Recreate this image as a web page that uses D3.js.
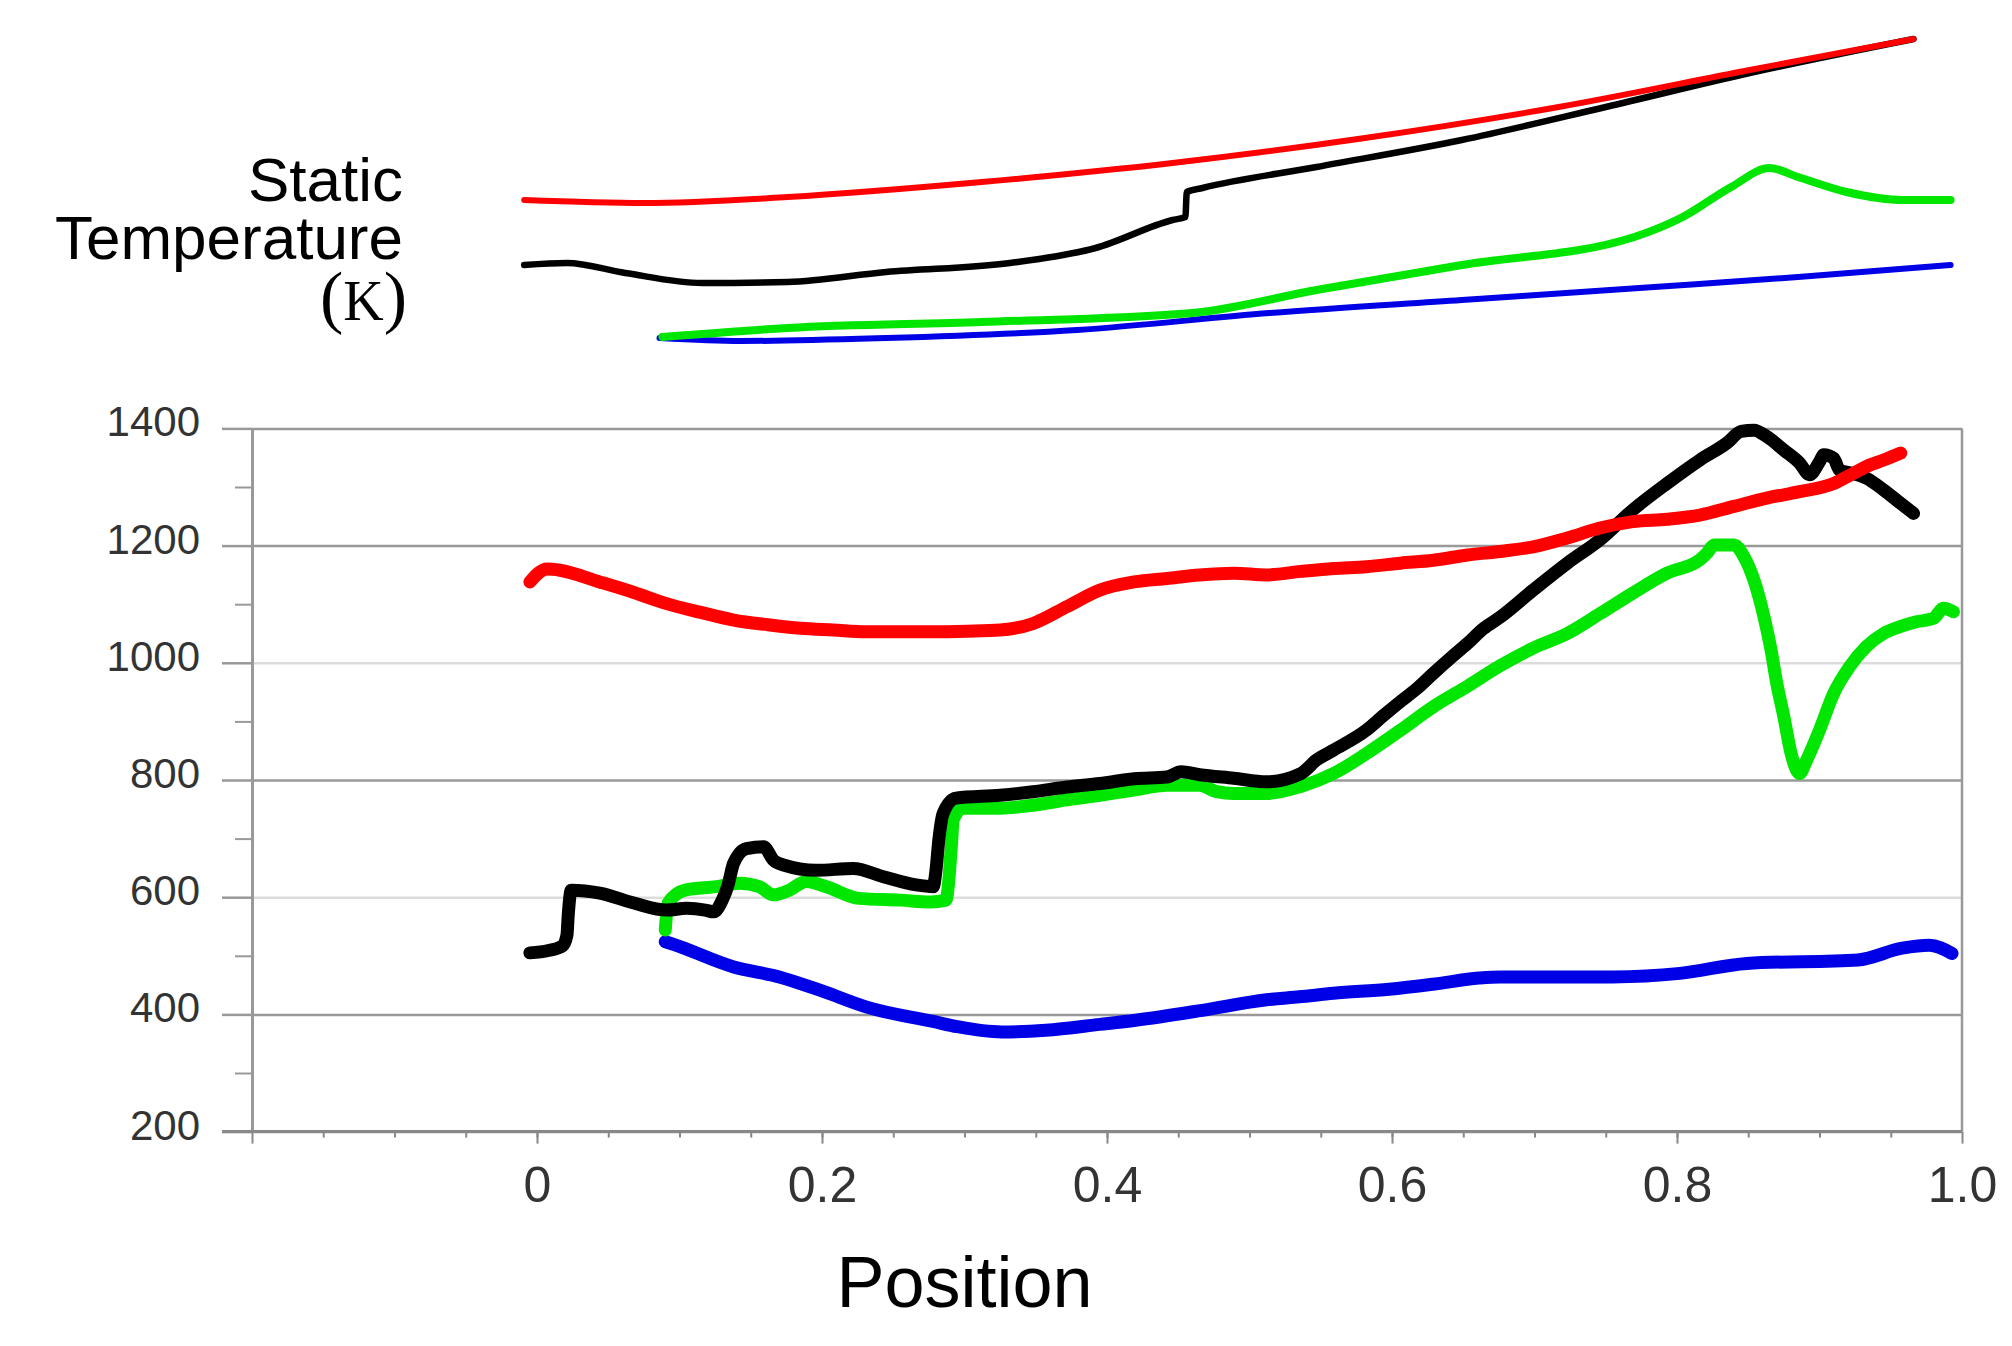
<!DOCTYPE html>
<html>
<head>
<meta charset="utf-8">
<script src="https://cdn.jsdelivr.net/npm/d3@7"></script>
<style>
  body { margin: 0; background: #fff; }
  svg { display: block; }
</style>
</head>
<body>
<div id="wrapper"></div>
<script>
// data: [position, static temperature (K)]
const redMain = [
  [-0.005, 1138], [0.007, 1160], [0.016, 1158], [0.044, 1138], [0.068, 1120],
  [0.091, 1101], [0.115, 1086], [0.138, 1073], [0.162, 1065], [0.185, 1059],
  [0.208, 1056], [0.231, 1053], [0.255, 1053], [0.278, 1053], [0.302, 1054],
  [0.325, 1056], [0.348, 1067], [0.372, 1096], [0.395, 1124], [0.419, 1138],
  [0.442, 1144], [0.465, 1150], [0.489, 1153], [0.512, 1150], [0.536, 1156],
  [0.559, 1161], [0.582, 1164], [0.606, 1170], [0.629, 1175], [0.653, 1184],
  [0.676, 1190], [0.699, 1198], [0.723, 1213], [0.746, 1230], [0.769, 1241],
  [0.793, 1245], [0.816, 1252], [0.840, 1267], [0.863, 1281], [0.886, 1292],
  [0.910, 1306], [0.922, 1321], [0.933, 1335], [0.945, 1346], [0.957, 1358]
]
const blackMain = [
  [-0.005, 505], [0.008, 509], [0.018, 517], [0.021, 535], [0.022, 572],
  [0.024, 612], [0.044, 607], [0.068, 590], [0.091, 578], [0.105, 581],
  [0.118, 578], [0.124, 575], [0.130, 595], [0.134, 620], [0.138, 658],
  [0.147, 683], [0.159, 686], [0.166, 663], [0.173, 655], [0.196, 646],
  [0.222, 649], [0.243, 635], [0.266, 621], [0.278, 618], [0.280, 646],
  [0.282, 698], [0.285, 743], [0.294, 769], [0.325, 774], [0.348, 780],
  [0.372, 788], [0.395, 794], [0.419, 802], [0.442, 805], [0.452, 814],
  [0.465, 809], [0.489, 803], [0.512, 797], [0.536, 811], [0.547, 834],
  [0.559, 851], [0.582, 885], [0.594, 910], [0.606, 934], [0.617, 955],
  [0.629, 982], [0.641, 1008], [0.653, 1033], [0.664, 1058], [0.676, 1078],
  [0.699, 1124], [0.723, 1170], [0.746, 1210], [0.769, 1261], [0.793, 1306],
  [0.816, 1346], [0.835, 1375], [0.845, 1395], [0.854, 1397], [0.863, 1386],
  [0.875, 1363], [0.886, 1341], [0.893, 1321], [0.900, 1343], [0.903, 1355],
  [0.910, 1349], [0.914, 1329], [0.924, 1323], [0.933, 1315], [0.945, 1295],
  [0.957, 1272], [0.966, 1255]
]
const greenMain = [
  [0.090, 544], [0.092, 590], [0.104, 612], [0.126, 618], [0.142, 624],
  [0.156, 618], [0.166, 604], [0.177, 612], [0.189, 627], [0.203, 618],
  [0.226, 598], [0.255, 595], [0.276, 592], [0.287, 595], [0.289, 629],
  [0.290, 661], [0.291, 695], [0.292, 732], [0.299, 752], [0.325, 752],
  [0.348, 757], [0.372, 766], [0.395, 774], [0.419, 783], [0.442, 791],
  [0.465, 791], [0.477, 780], [0.489, 777], [0.512, 777], [0.536, 789],
  [0.559, 811], [0.582, 845], [0.606, 885], [0.629, 925], [0.653, 960],
  [0.676, 995], [0.699, 1025], [0.723, 1050], [0.746, 1084], [0.769, 1119],
  [0.793, 1153], [0.816, 1176], [0.821, 1187], [0.826, 1201], [0.840, 1201],
  [0.847, 1181], [0.854, 1141], [0.861, 1079], [0.866, 1022], [0.870, 965],
  [0.875, 908], [0.880, 846], [0.886, 811], [0.891, 834], [0.900, 885],
  [0.910, 948], [0.921, 993], [0.933, 1028], [0.945, 1050], [0.957, 1062],
  [0.968, 1070], [0.980, 1076], [0.987, 1093], [0.994, 1087]
]
const blueMain = [
  [0.090, 524], [0.094, 521], [0.138, 481], [0.170, 464], [0.200, 440],
  [0.232, 412], [0.278, 388], [0.295, 379], [0.326, 370], [0.357, 373],
  [0.395, 383], [0.420, 390], [0.467, 407], [0.512, 425], [0.535, 430],
  [0.559, 436], [0.598, 443], [0.630, 452], [0.661, 462], [0.676, 464],
  [0.755, 464], [0.802, 470], [0.849, 487], [0.927, 493], [0.958, 513],
  [0.977, 518], [0.993, 504]
]

// schematic curves above the chart: [position, relative level]
const redTop = [
  [-0.009, 145], [0.075, 142], [0.176, 148], [0.312, 163], [0.446, 182],
  [0.581, 207], [0.717, 238], [0.851, 275], [0.966, 306]
]
const blackTop = [
  [-0.009, 80], [0.021, 82], [0.062, 72], [0.116, 62], [0.176, 63],
  [0.245, 73], [0.332, 82], [0.392, 97], [0.446, 125], [0.455, 128],
  [0.456, 153], [0.467, 157], [0.547, 178], [0.649, 205], [0.750, 238],
  [0.851, 272], [0.966, 306]
]
const greenTop = [
  [0.088, 8], [0.176, 17], [0.312, 23], [0.460, 32], [0.547, 55],
  [0.649, 80], [0.770, 108], [0.804, 128], [0.838, 158], [0.865, 177],
  [0.885, 168], [0.919, 153], [0.959, 145], [0.992, 145]
]
const blueTop = [
  [0.086, 7], [0.143, 4], [0.245, 7], [0.379, 15], [0.514, 32],
  [0.649, 45], [0.784, 58], [0.885, 68], [0.992, 80]
]

const yTicks = [200, 400, 600, 800, 1000, 1200, 1400]
const yMinorTicks = [300, 500, 700, 900, 1100, 1300]
const xTicks = [-0.2, 0, 0.2, 0.4, 0.6, 0.8, 1.0]
const xMinorTicks = d3.range(-0.15, 1.0, 0.05)
const lightGrid = [600, 1000]

function drawChart() {
  const width = 2012
  const height = 1346

  const svg = d3.select("#wrapper")
    .append("svg")
      .attr("width", width)
      .attr("height", height)

  // scales
  const xScale = d3.scaleLinear()
    .domain([-0.2, 1.0])
    .range([252, 1962])

  const yScale = d3.scaleLinear()
    .domain([200, 1400])
    .range([1131.6, 428.4])

  const topScale = d3.scaleLinear()
    .domain([0, 310])
    .range([345, 35])

  // gridlines
  const grid = svg.append("g")
    .attr("transform", `translate(${xScale.range()[0]},0)`)
    .call(d3.axisLeft(yScale)
      .tickValues(yTicks)
      .tickSize(-(xScale.range()[1] - xScale.range()[0]))
      .tickFormat(""))
  grid.select(".domain").remove()
  grid.selectAll(".tick line")
    .attr("stroke", d => lightGrid.includes(d) ? "#dcdcdc" : "#999")
    .attr("stroke-width", 2.5)

  // right border
  svg.append("line")
    .attr("x1", xScale(1.0)).attr("x2", xScale(1.0))
    .attr("y1", yScale(1400)).attr("y2", yScale(200))
    .attr("stroke", "#999")
    .attr("stroke-width", 2.5)

  // y axis
  const yMinor = svg.append("g")
    .attr("transform", `translate(${xScale.range()[0]},0)`)
    .call(d3.axisLeft(yScale).tickValues(yMinorTicks).tickSize(17).tickFormat(""))
  yMinor.select(".domain").remove()
  yMinor.selectAll(".tick line").attr("stroke", "#999").attr("stroke-width", 2)

  const yAxis = svg.append("g")
    .attr("transform", `translate(${xScale.range()[0]},0)`)
    .call(d3.axisLeft(yScale)
      .tickValues(yTicks)
      .tickSize(30)
      .tickSizeOuter(0)
      .tickPadding(22)
      .tickFormat(d3.format("d")))
  yAxis.select(".domain").attr("stroke", "#999").attr("stroke-width", 3)
  yAxis.selectAll(".tick line").attr("stroke", "#999").attr("stroke-width", 2.5)
  yAxis.selectAll(".tick text")
    .attr("dy", "0.18em")
    .attr("fill", "#333")
    .style("font-family", "'Liberation Sans', Arial, sans-serif")
    .style("font-size", "42px")

  // x axis
  const xMinor = svg.append("g")
    .attr("transform", `translate(0,${yScale(200)})`)
    .call(d3.axisBottom(xScale).tickValues(xMinorTicks).tickSize(6).tickFormat(""))
  xMinor.select(".domain").remove()
  xMinor.selectAll(".tick line").attr("stroke", "#888").attr("stroke-width", 2)

  const xAxis = svg.append("g")
    .attr("transform", `translate(0,${yScale(200)})`)
    .call(d3.axisBottom(xScale)
      .tickValues(xTicks)
      .tickSize(12)
      .tickSizeOuter(0)
      .tickPadding(23)
      .tickFormat(d => d < 0 ? "" : d === 0 ? "0" : d3.format(".1f")(d)))
  xAxis.select(".domain")
    .attr("d", `M${xScale(-0.2) - 30},0H${xScale(1.0)}`)
    .attr("stroke", "#888").attr("stroke-width", 3)
  xAxis.selectAll(".tick line").attr("stroke", "#888").attr("stroke-width", 2)
  xAxis.selectAll(".tick text")
    .attr("fill", "#333")
    .style("font-family", "'Liberation Sans', Arial, sans-serif")
    .style("font-size", "50px")

  // main series
  const line = d3.line()
    .x(d => xScale(d[0]))
    .y(d => yScale(d[1]))
    .curve(d3.curveMonotoneX)

  const mainSeries = [
    { data: blueMain, color: "#0000e6" },
    { data: greenMain, color: "#00e600" },
    { data: blackMain, color: "#000000" },
    { data: redMain, color: "#ff0000" }
  ]

  svg.append("g")
    .selectAll("path")
    .data(mainSeries)
    .enter().append("path")
      .attr("d", d => line(d.data))
      .attr("fill", "none")
      .attr("stroke", d => d.color)
      .attr("stroke-width", 13)
      .attr("stroke-linecap", "round")
      .attr("stroke-linejoin", "round")

  // schematic curves
  const topLine = d3.line()
    .x(d => xScale(d[0]))
    .y(d => topScale(d[1]))
    .curve(d3.curveMonotoneX)

  const topSeries = [
    { data: blueTop, color: "#0000e6", w: 6 },
    { data: greenTop, color: "#00e600", w: 8 },
    { data: blackTop, color: "#000000", w: 6.5 },
    { data: redTop, color: "#ff0000", w: 6 }
  ]

  svg.append("g")
    .selectAll("path")
    .data(topSeries)
    .enter().append("path")
      .attr("d", d => topLine(d.data))
      .attr("fill", "none")
      .attr("stroke", d => d.color)
      .attr("stroke-width", d => d.w)
      .attr("stroke-linecap", "round")
      .attr("stroke-linejoin", "round")

  // labels
  svg.append("text")
    .attr("x", xScale(0.3))
    .attr("y", 1307)
    .attr("text-anchor", "middle")
    .style("font-family", "'Liberation Sans', Arial, sans-serif")
    .style("font-size", "72px")
    .text("Position")

  const yLabel = svg.append("g")
    .style("font-family", "'Liberation Sans', Arial, sans-serif")
    .style("font-size", "62px")
    .attr("text-anchor", "end")

  yLabel.append("text").attr("x", 403).attr("y", 201).text("Static")
  yLabel.append("text").attr("x", 403).attr("y", 259).text("Temperature")

  const unit = yLabel.append("text")
    .attr("x", 407)
    .attr("y", 320)
    .style("font-family", "'Liberation Serif', 'Times New Roman', serif")
  unit.append("tspan").style("font-size", "70px").text("(")
  unit.append("tspan").style("font-size", "56px").text("K")
  unit.append("tspan").style("font-size", "70px").text(")")
}

drawChart()
</script>
</body>
</html>
